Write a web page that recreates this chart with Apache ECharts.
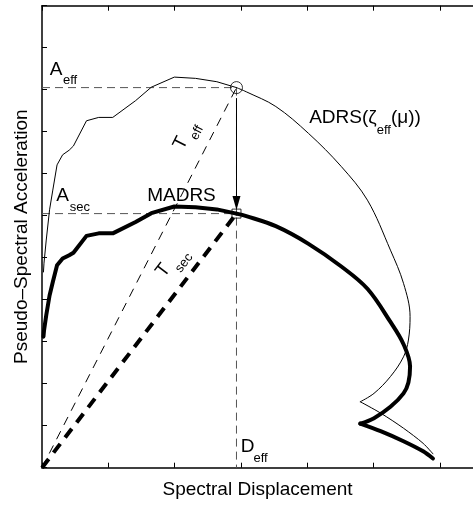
<!DOCTYPE html>
<html>
<head>
<meta charset="utf-8">
<script src="https://cdn.jsdelivr.net/npm/echarts@6/dist/echarts.min.js"></script>
<style>
  html, body { margin: 0; padding: 0; background: #fff; }
  #chart { width: 473px; height: 506px; }
</style>
</head>
<body>
<div id="chart"></div>
<script>
// ADRS curve at effective damping: spectral displacement vs pseudo-spectral acceleration
const adrsSd = [0.022, 0.030, 0.064, 0.114, 0.163, 0.227, 0.311, 0.410, 0.474, 0.671, 0.855, 1.067,
  1.412, 1.649, 1.996, 2.316, 2.637, 2.933, 3.081, 3.526, 4.019, 4.514, 4.908, 5.255, 5.452,
  5.551, 5.526, 5.452, 5.255, 5.007, 4.800, 5.107, 5.452, 5.748, 5.896];
const adrsSa = [4.66, 4.87, 5.42, 6.14, 6.61, 7.21, 7.45, 7.56, 7.66, 8.26, 8.34, 8.34,
  8.74, 9.06, 9.30, 9.27, 9.19, 9.05, 8.95, 8.60, 7.96, 7.17, 6.37, 5.18, 4.39,
  3.60, 3.04, 2.64, 2.17, 1.77, 1.57, 1.30, 0.94, 0.58, 0.33];

// Modified ADRS (MADRS)
const madrsSd = [0.022, 0.030, 0.064, 0.114, 0.163, 0.227, 0.311, 0.410, 0.474, 0.671, 0.855, 1.067,
  1.412, 1.649, 1.996, 2.316, 2.637, 2.933, 3.081, 3.526, 4.019, 4.514, 4.908, 5.255, 5.452,
  5.551, 5.526, 5.452, 5.255, 5.007, 4.800, 5.107, 5.452, 5.748, 5.896];
const madrsSa = [3.12, 3.26, 3.63, 4.10, 4.42, 4.82, 4.98, 5.06, 5.12, 5.52, 5.58, 5.58,
  5.85, 6.06, 6.22, 6.20, 6.15, 6.05, 5.99, 5.75, 5.33, 4.79, 4.26, 3.47, 2.94,
  2.41, 2.03, 1.77, 1.45, 1.18, 1.05, 0.87, 0.63, 0.39, 0.22];

// Performance point quantities
const Deff = 2.933;
const Aeff = 9.05;
const Asec = 6.05;

// Axis extents (ticks carry no labels)
const xMin = 0, xMax = 6.5, xStep = 1;
const yMin = 0, yMax = 11, yStep = 1;

const FONT = '"Liberation Sans", Arial, Helvetica, sans-serif';
const pairs = (xs, ys) => xs.map((x, i) => [x, ys[i]]);

// The spectra are drawn in three pieces: the jagged short-period branch as a
// polyline, then the smooth long-period branch up to the cusp, then the tail.
const PEAK = 17, CUSP = 30;
function spectrumSeries(name, xs, ys, width, z) {
  const pts = pairs(xs, ys);
  const parts = [
    { data: pts.slice(0, PEAK + 1), smooth: false },
    { data: pts.slice(PEAK, CUSP + 1), smooth: 0.35 },
    { data: pts.slice(CUSP), smooth: 0.3 }
  ];
  return parts.map(p => ({
    name: name, type: 'line', silent: true, symbol: 'none', z: z,
    smooth: p.smooth, data: p.data,
    lineStyle: { color: '#000', width: width, join: 'round', cap: 'round' }
  }));
}

const chart = echarts.init(document.getElementById('chart'), null, { renderer: 'canvas' });

const axisCommon = {
  type: 'value',
  axisLine: { show: true, lineStyle: { color: '#000', width: 1.5 } },
  axisTick: { show: true, inside: true, length: 5, lineStyle: { color: '#000', width: 1 } },
  axisLabel: { show: false },
  splitLine: { show: false }
};

const dashedGuide = { color: '#555', width: 1, type: [8, 5] };

chart.setOption({
  animation: false,
  backgroundColor: '#fff',
  grid: { left: 42, top: 5.7, width: 438.75, height: 462 },
  xAxis: [
    Object.assign({}, axisCommon, {
      min: xMin, max: xMax, interval: xStep, position: 'bottom',
      name: 'Spectral Displacement', nameLocation: 'middle', nameGap: 13,
      nameTextStyle: { fontSize: 19, fontFamily: FONT, color: '#000' }
    }),
    Object.assign({}, axisCommon, {
      min: xMin, max: xMax, interval: xStep, position: 'top'
    })
  ],
  yAxis: [
    Object.assign({}, axisCommon, {
      min: yMin, max: yMax, interval: yStep, position: 'left',
      name: 'Pseudo\u2013Spectral Acceleration', nameLocation: 'middle', nameGap: 11,
      nameTextStyle: { fontSize: 19, fontFamily: FONT, color: '#000' }
    })
  ],
  series: [
    {
      name: 'Aeff guide', type: 'line', silent: true, symbol: 'none', z: 1,
      data: [[0, Aeff], [Deff, Aeff]], lineStyle: dashedGuide
    },
    {
      name: 'Asec guide', type: 'line', silent: true, symbol: 'none', z: 1,
      data: [[0, Asec], [Deff, Asec]], lineStyle: dashedGuide
    },
    {
      name: 'Deff guide', type: 'line', silent: true, symbol: 'none', z: 1,
      data: [[Deff, Aeff], [Deff, 0]], lineStyle: dashedGuide,
      markLine: {
        silent: true,
        symbol: ['none', 'triangle'],
        symbolSize: [8, 14],
        label: { show: false },
        lineStyle: { color: '#000', width: 1, type: 'solid' },
        data: [[{ coord: [Deff, Aeff - 0.25] }, { coord: [Deff, Asec + 0.25] }]]
      }
    },
    {
      name: 'Teff', type: 'line', silent: true, symbol: 'none', z: 2,
      data: [[0, 0], [Deff, Aeff]],
      lineStyle: { color: '#000', width: 1, type: [9, 7] }
    },
    {
      name: 'Tsec', type: 'line', silent: true, symbol: 'none', z: 2,
      data: [[0, 0], [Deff, Asec]],
      lineStyle: { color: '#000', width: 4, type: [11, 8] }
    }
  ]
  .concat(spectrumSeries('ADRS', adrsSd, adrsSa, 1, 3))
  .concat(spectrumSeries('MADRS', madrsSd, madrsSa, 4, 4))
  .concat([
    {
      name: 'effective point', type: 'scatter', silent: true, z: 5,
      data: [[Deff, Aeff]], symbol: 'circle', symbolSize: 12,
      itemStyle: { color: 'rgba(0,0,0,0)', borderColor: '#000', borderWidth: 1 }
    },
    {
      name: 'secant point', type: 'scatter', silent: true, z: 5,
      data: [[Deff, Asec]], symbol: 'rect', symbolSize: 9,
      itemStyle: { color: 'rgba(0,0,0,0)', borderColor: '#000', borderWidth: 1 }
    }
  ])
});

// Annotations, anchored to data points through the grid's coordinate system
const P = p => chart.convertToPixel({ gridIndex: 0 }, p);
const ctx = document.createElement('canvas').getContext('2d');
const textWidth = (s, size) => { ctx.font = size + 'px ' + FONT; return ctx.measureText(s).width; };
const txt = (x, y, text, size, align) => ({
  type: 'text', x: x, y: y, silent: true, z: 10,
  style: { text: text, fontSize: size, fontFamily: FONT, fill: '#000', align: align || 'left', verticalAlign: 'middle' }
});

const o = P([0, 0]);
const pe = P([Deff, Aeff]);
const ps = P([Deff, Asec]);
const ae = P([0, Aeff]);
const as = P([0, Asec]);
const de = P([Deff, 0]);

const elements = [];
// A_eff and A_sec
elements.push(txt(ae[0] + 7.7, ae[1] - 18, 'A', 19));
elements.push(txt(ae[0] + 21, ae[1] - 7.2, 'eff', 13));
elements.push(txt(as[0] + 14.3, as[1] - 18.1, 'A', 19));
elements.push(txt(as[0] + 27.7, as[1] - 6.1, 'sec', 13));
// MADRS
elements.push(txt(ps[0] - 20.7, ps[1] - 18.3, 'MADRS', 19, 'right'));
// ADRS(ζeff(μ))
let ax = pe[0] + 72.7;
const ay = pe[1] + 29.8;
elements.push(txt(ax, ay, 'ADRS(\u03B6', 19));
ax += textWidth('ADRS(\u03B6', 19);
elements.push(txt(ax, ay + 13, 'eff', 13));
ax += textWidth('eff', 13);
elements.push(txt(ax, ay, '(\u03BC))', 19));
// D_eff
elements.push(txt(de[0] + 4.3, de[1] - 20.5, 'D', 19));
elements.push(txt(de[0] + 17, de[1] - 9.5, 'eff', 13));

// Period labels rotated along the radial lines
function periodLabel(end, frac, perp, sub, subDx, subDy) {
  const dx = end[0] - o[0], dy = end[1] - o[1];
  const ang = Math.atan2(-dy, dx);
  return {
    type: 'group',
    x: o[0] + dx * frac, y: o[1] + dy * frac,
    rotation: ang, silent: true, z: 10,
    children: [
      txt(0, -perp, 'T', 19, 'center'),
      txt(subDx, -perp + subDy, sub, 13, 'left')
    ]
  };
}
elements.push(periodLabel(pe, 0.825, 24, 'eff', 9.4, 9.5));
elements.push(periodLabel(ps, 0.72, 23.5, 'sec', 8.4, 12));

chart.setOption({ graphic: elements });
</script>
</body>
</html>
